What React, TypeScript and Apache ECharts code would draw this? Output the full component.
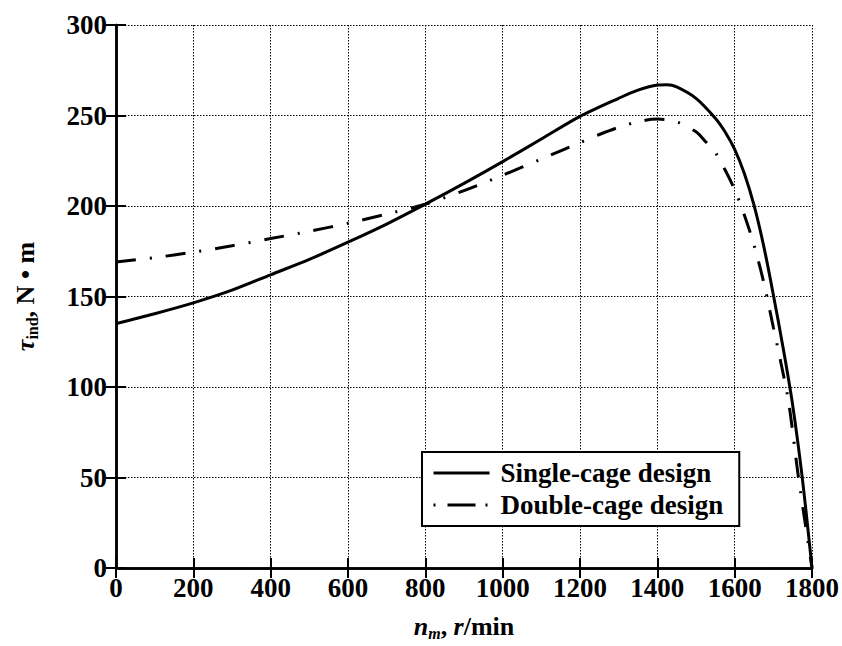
import React, { useEffect, useRef } from "react";
import * as echarts from "echarts";

const singleSpeed = [0, 100, 200, 300, 400, 500, 600, 700, 800, 900, 1000, 1100, 1200, 1300, 1350, 1400, 1425, 1450, 1500, 1550, 1575, 1600, 1625, 1650, 1675, 1700, 1725, 1750, 1775, 1800];
const singleTorque = [135, 140.5, 146.5, 153.5, 162, 170.5, 180, 190, 201, 212.5, 224.5, 237, 249.5, 259.5, 264, 266.8, 267, 265.8, 259.5, 248.5, 241, 231.3, 218, 200.5, 178, 151, 122, 90, 49.5, 0];

const doubleSpeed = [0, 100, 200, 300, 400, 500, 600, 700, 800, 900, 1000, 1100, 1200, 1250, 1300, 1350, 1400, 1450, 1500, 1525, 1550, 1575, 1600, 1625, 1650, 1675, 1700, 1720, 1740, 1765, 1800];
const doubleTorque = [169, 171.5, 174.5, 178, 182, 186, 190.5, 195.5, 201, 208.5, 217, 226, 235, 239.5, 243.5, 246.5, 248, 246.5, 241, 235.5, 229.5, 220, 209, 195, 178.5, 158, 133, 113, 91, 50, 0];

const seriesNames = ["Single-cage design", "Double-cage design"];

const FONT = "'Liberation Serif', 'DejaVu Serif', serif";

export default function App() {
  const ref = useRef<HTMLDivElement>(null);
  useEffect(() => {
    document.body.style.margin = "0";
    const chart = echarts.init(ref.current!, null, { renderer: "svg" });
    const axisLineStyle = { color: "#000", width: 2.5 };
    const tick = { show: true, inside: true, length: 10, lineStyle: { color: "#000", width: 2 } };
    const split = { show: true, lineStyle: { color: "#000", width: 1, type: [1.5, 1.5] as any } };
    const main = { fontFamily: FONT, fontSize: 26, fontWeight: "bold", color: "#000", lineHeight: 30, verticalAlign: "middle" };
    const mainI = { ...main, fontStyle: "italic" };
    const sub = { fontFamily: FONT, fontSize: 16, fontWeight: "bold", color: "#000", lineHeight: 16, verticalAlign: "bottom" };
    const subI = { ...sub, fontStyle: "italic" };
    const labelStyle = { fontFamily: FONT, fontSize: 27, fontWeight: "bold", color: "#000" };
    chart.setOption({
      animation: false,
      backgroundColor: "#fff",
      grid: { left: 116, right: 30, top: 25, bottom: 73, containLabel: false },
      legend: {
        orient: "vertical",
        left: 422,
        top: 452,
        data: [
          { name: seriesNames[0], lineStyle: { color: "#000", width: 3, type: "solid" } },
          { name: seriesNames[1], lineStyle: { color: "#000", width: 3, type: [2, 12, 28, 10] } },
        ],
        itemStyle: { opacity: 0 },
        backgroundColor: "#fff",
        borderColor: "#000",
        borderWidth: 2,
        borderRadius: 0,
        padding: [6, 16, 6, 10],
        itemWidth: 56,
        itemHeight: 30,
        itemGap: 2,
        textStyle: { fontFamily: FONT, fontSize: 27, fontWeight: "bold", color: "#000", lineHeight: 30, padding: [0, 0, 0, 6] },
      },
      xAxis: [
        {
          type: "value",
          min: 0,
          max: 1800,
          interval: 200,
          position: "bottom",
          axisLine: { show: true, lineStyle: axisLineStyle },
          axisTick: tick,
          splitLine: split,
          axisLabel: { ...labelStyle, margin: 6, formatter: (v: number) => String(v) },
          name: "{i|n}{si|m}{r|, }{i|r}{r|/min}",
          nameLocation: "middle",
          nameGap: 43,
          nameTextStyle: { rich: { i: mainI, si: subI, r: main } },
        },
        {
          type: "value",
          min: 0,
          max: 1800,
          interval: 200,
          position: "top",
          axisLine: { show: true, lineStyle: axisLineStyle },
          axisTick: tick,
          splitLine: { show: false },
          axisLabel: { show: false },
        },
      ],
      yAxis: [
        {
          type: "value",
          min: 0,
          max: 300,
          interval: 50,
          position: "left",
          axisLine: { show: true, lineStyle: axisLineStyle },
          axisTick: tick,
          splitLine: split,
          axisLabel: { ...labelStyle, margin: 9, formatter: (v: number) => String(v) },
          name: "{i|τ}{s|ind}{r|, N • m}",
          nameLocation: "middle",
          nameGap: 76,
          nameTextStyle: { rich: { i: mainI, s: sub, r: main } },
        },
        {
          type: "value",
          min: 0,
          max: 300,
          interval: 50,
          position: "right",
          axisLine: { show: true, lineStyle: axisLineStyle },
          axisTick: tick,
          splitLine: { show: false },
          axisLabel: { show: false },
        },
      ],
      series: [
        {
          name: seriesNames[0],
          type: "line",
          data: singleSpeed.map((s, i) => [s, singleTorque[i]]),
          smooth: 0.3,
          showSymbol: false,
          symbol: "none",
          lineStyle: { color: "#000", width: 3, type: "solid" },
          itemStyle: { color: "#000" },
          z: 3,
        },
        {
          name: seriesNames[1],
          type: "line",
          data: doubleSpeed.map((s, i) => [s, doubleTorque[i]]),
          smooth: 0.3,
          showSymbol: false,
          symbol: "none",
          lineStyle: { color: "#000", width: 3, type: [20, 14, 2, 14] },
          itemStyle: { color: "#000" },
          z: 3,
        },
      ],
    });
    return () => chart.dispose();
  }, []);
  return <div ref={ref} style={{ width: 842, height: 646 }} />;
}
